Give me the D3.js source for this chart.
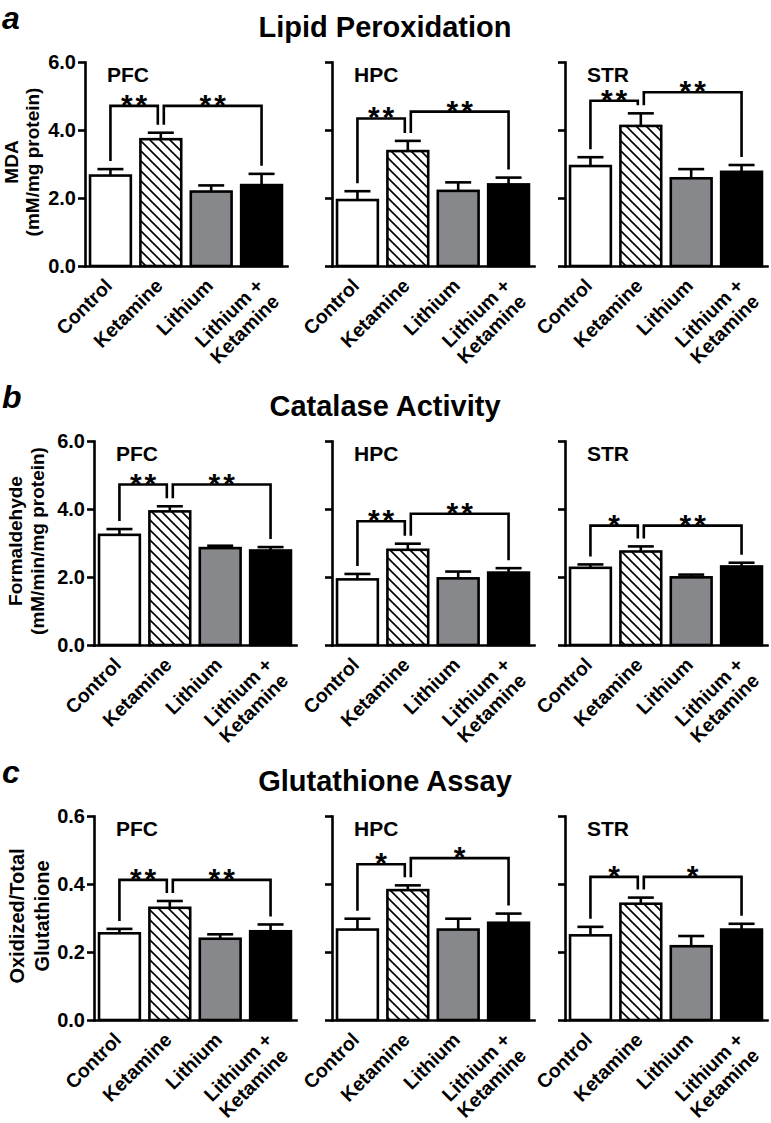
<!DOCTYPE html>
<html><head><meta charset="utf-8">
<script src="https://cdn.jsdelivr.net/npm/d3@7"></script>
<style>
body{margin:0;background:#fff;}
text{font-family:"Liberation Sans",Arial,Helvetica,sans-serif;font-weight:bold;fill:#000;}
</style></head><body>
<svg id="chart" width="771" height="1123"></svg>
<script>
// ---------- data ----------
const groups = ["Control","Ketamine","Lithium","Lithium + Ketamine"];
const groupLabelLines = [["Control"],["Ketamine"],["Lithium"],["Lithium +","Ketamine"]];
const regions = ["PFC","HPC","STR"];
const assayTitles = ["Lipid Peroxidation","Catalase Activity","Glutathione Assay"];
const panelLetters = ["a","b","c"];
const yAxisTitles = [["MDA","(mM/mg protein)"],["Formaldehyde","(mM/min/mg protein)"],["Oxidized/Total","Glutathione"]];
const yTickValues = [[0,2,4,6],[0,2,4,6],[0,0.2,0.4,0.6]];
const yMaxValues = [6,6,0.6];

// means and SEM, rows: PFC, HPC, STR; columns follow groups
const lipidMeans = [[2.66,3.73,2.19,2.38],[1.94,3.38,2.21,2.40],[2.94,4.12,2.58,2.77]];
const lipidSem   = [[0.19,0.19,0.18,0.33],[0.26,0.30,0.25,0.20],[0.26,0.37,0.27,0.20]];
const catalaseMeans = [[3.24,3.93,2.85,2.78],[1.93,2.80,1.96,2.13],[2.27,2.75,1.99,2.31]];
const catalaseSem   = [[0.17,0.15,0.07,0.10],[0.16,0.18,0.20,0.13],[0.10,0.15,0.08,0.11]];
const glutMeans = [[0.255,0.330,0.239,0.261],[0.266,0.382,0.266,0.286],[0.249,0.342,0.217,0.266]];
const glutSem   = [[0.013,0.020,0.013,0.020],[0.032,0.014,0.032,0.027],[0.025,0.018,0.030,0.017]];

// significance: [Control vs Ketamine, Ketamine vs Lithium + Ketamine]
const lipidSig = [["**","**"],["**","**"],["**","**"]];
const lipidSigLevel = [[4.71,4.71],[4.34,4.54],[4.86,5.11]];
const catalaseSig = [["**","**"],["**","**"],["*","**"]];
const catalaseSigLevel = [[4.72,4.72],[3.64,3.86],[3.51,3.51]];
const glutSig = [["**","**"],["*","*"],["*","*"]];
const glutSigLevel = [[0.412,0.412],[0.458,0.476],[0.421,0.421]];

const allMeans = [lipidMeans, catalaseMeans, glutMeans];
const allSem = [lipidSem, catalaseSem, glutSem];
const allSig = [lipidSig, catalaseSig, glutSig];
const allSigLevel = [lipidSigLevel, catalaseSigLevel, glutSigLevel];

// ---------- layout ----------
const panelTop = [62, 441, 816];
const plotH = 204, plotW = 202;
const axisX = [[85,332,565],[94,332,565],[94,332,565]];
const yTitleFont = [19,19,20];
const yTitleX = [[18,39],[22,44],[24,49]];
const fills = ["#ffffff","url(#hatch)","#87888b","#000000"];
const SW = 2.6;

const svg = d3.select("#chart");
const defs = svg.append("defs");
const pat = defs.append("pattern").attr("id","hatch").attr("patternUnits","userSpaceOnUse")
  .attr("width",10).attr("height",10);
pat.append("rect").attr("width",10).attr("height",10).attr("fill","#fff");
pat.append("path").attr("d","M-5,5 L5,15 M0,0 L10,10 M5,-5 L15,5")
  .attr("stroke","#000").attr("stroke-width",1.6);

assayTitles.forEach((title,p)=>{
  const top = panelTop[p];
  svg.append("text").attr("x",385).attr("y",top-25).attr("text-anchor","middle")
    .attr("font-size",29).text(title);
  svg.append("text").attr("x",2).attr("y",top-33).attr("font-size",32)
    .attr("font-style","italic").text(panelLetters[p]);
  // y axis title
  yAxisTitles[p].forEach((line,li)=>{
    svg.append("text").attr("transform",`translate(${yTitleX[p][li]},${top+100}) rotate(-90)`)
      .attr("text-anchor","middle").attr("font-size",yTitleFont[p]).text(line);
  });

  regions.forEach((reg,r)=>{
    const ax = axisX[p][r];
    const means = allMeans[p][r], sem = allSem[p][r];
    const x = d3.scaleBand().domain(groups).range([ax, ax+plotW]).paddingInner(0.19).paddingOuter(0.1);
    const y = d3.scaleLinear().domain([0,yMaxValues[p]]).range([top+plotH, top]);
    const g = svg.append("g");
    const cx = i => x(groups[i]) + x.bandwidth()/2;

    // bars
    g.selectAll("rect.bar").data(means).join("rect").attr("class","bar")
      .attr("x",(d,i)=>x(groups[i])).attr("y",d=>y(d))
      .attr("width",x.bandwidth()).attr("height",d=>y(0)-y(d))
      .attr("fill",(d,i)=>fills[i]).attr("stroke","#000").attr("stroke-width",SW);
    // error bars
    means.forEach((m,i)=>{
      const yt = y(m+sem[i]);
      g.append("line").attr("x1",cx(i)).attr("x2",cx(i)).attr("y1",y(m)).attr("y2",yt)
        .attr("stroke","#000").attr("stroke-width",SW);
      g.append("line").attr("x1",cx(i)-13).attr("x2",cx(i)+13).attr("y1",yt).attr("y2",yt)
        .attr("stroke","#000").attr("stroke-width",SW);
    });

    // axes
    const yAxis = d3.axisLeft(y).tickValues(yTickValues[p]).tickSize(7).tickSizeOuter(0).tickPadding(2)
      .tickFormat(r===0 ? d3.format(".1f") : "");
    const gy = svg.append("g").attr("transform",`translate(${ax},0)`).call(yAxis);
    gy.selectAll("path,line").attr("stroke","#000").attr("stroke-width",SW);
    gy.select(".domain").attr("stroke-linecap","square");
    gy.selectAll("text").attr("font-size",20).attr("font-family",null).attr("fill","#000");

    const gx = svg.append("g").attr("transform",`translate(0,${y(0)})`)
      .call(d3.axisBottom(x).tickSize(0).tickSizeOuter(0).tickFormat(""));
    gx.select(".domain").attr("stroke","#000").attr("stroke-width",SW).attr("stroke-linecap","square");
    gx.selectAll(".tick text").remove();
    groups.forEach((gname,i)=>{
      const t = svg.append("text").attr("transform",`translate(${cx(i)+3},${y(0)+21}) rotate(-45)`)
        .attr("text-anchor","end").attr("font-size",19.5);
      groupLabelLines[i].forEach((ln,li)=>{
        t.append("tspan").attr("x",0).attr("dy", li===0 ? 0 : "1.15em").text(ln);
      });
    });

    // region label
    svg.append("text").attr("x",ax+22).attr("y",top+20).attr("font-size",21).text(reg);

    // significance brackets
    const pairs = [[0,1],[1,3]];
    pairs.forEach(([a,b],k)=>{
      const lvl = y(allSigLevel[p][r][k]);
      const xl = cx(a) + (a===1 ? 3 : 0);
      const xr = cx(b) - (b===1 ? 3 : 0);
      const yl = y(means[a]+sem[a]) - 8, yr = y(means[b]+sem[b]) - 8;
      g.append("path").attr("d",`M${xl},${yl}V${lvl}H${xr}V${yr}`)
        .attr("fill","none").attr("stroke","#000").attr("stroke-width",SW);
      g.append("text").attr("x",(xl+xr)/2 + 1.5).attr("y",lvl+9).attr("text-anchor","middle")
        .attr("font-size",30).attr("letter-spacing",3).text(allSig[p][r][k]);
    });
  });
});
</script>
</body></html>
